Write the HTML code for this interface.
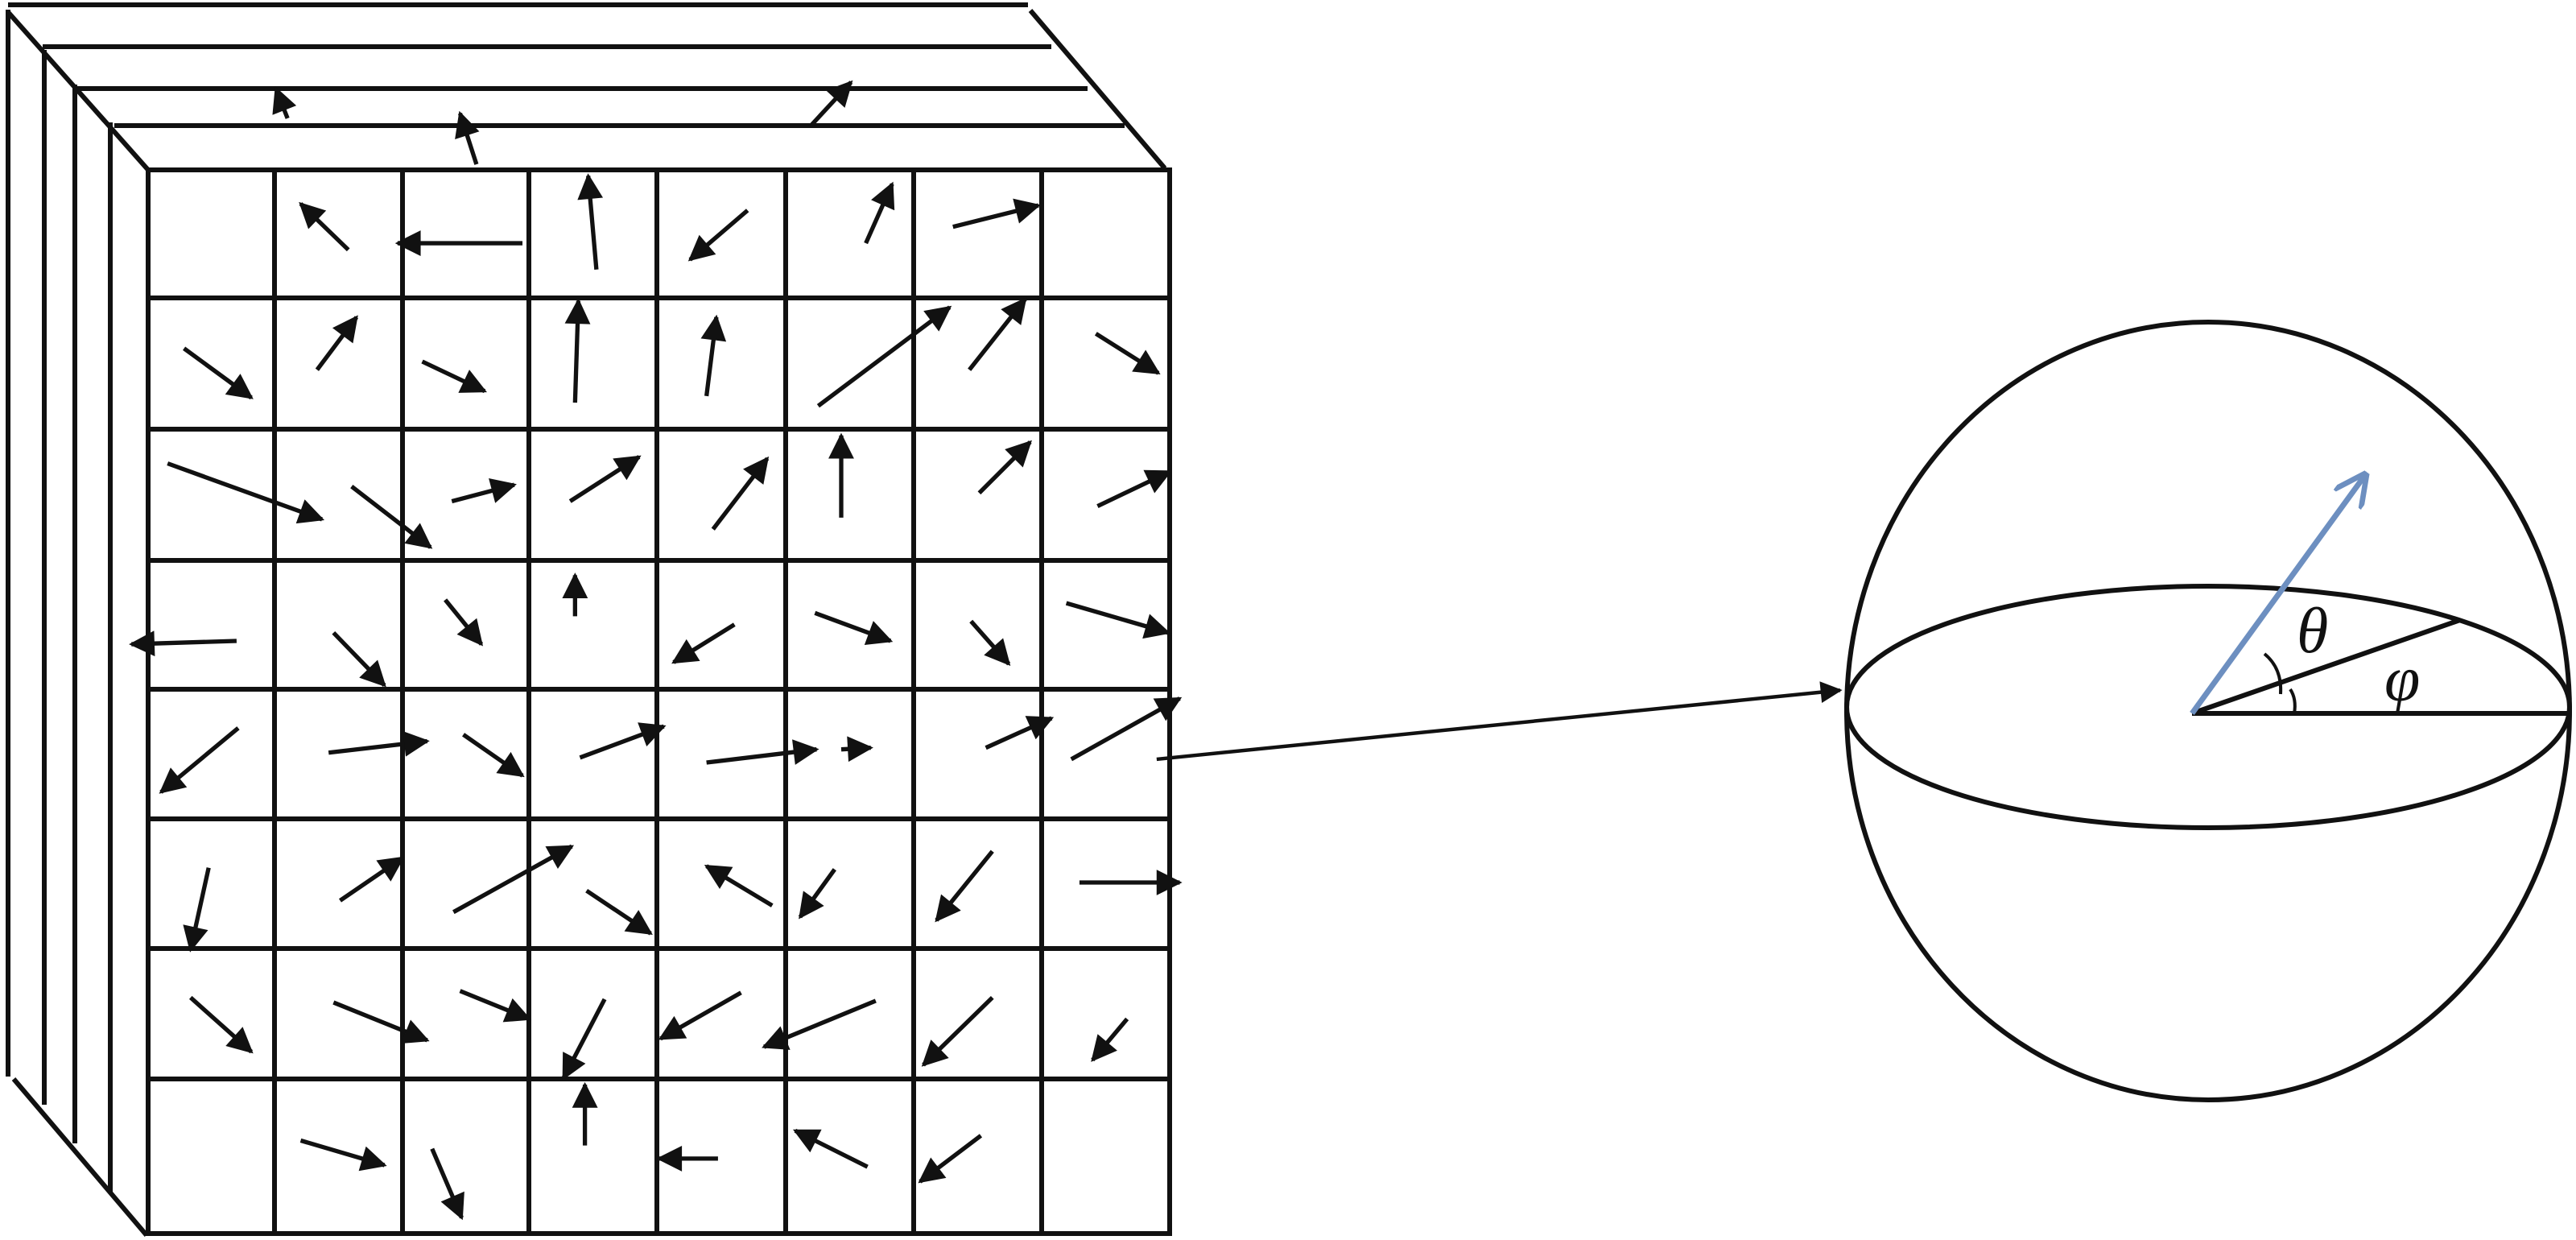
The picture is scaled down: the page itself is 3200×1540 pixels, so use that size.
<!DOCTYPE html>
<html><head><style>html,body{margin:0;padding:0;background:#fff}svg{display:block}</style></head>
<body>
<svg width="3200" height="1540" viewBox="0 0 3200 1540" xmlns="http://www.w3.org/2000/svg">
<defs>
<marker id="ah" viewBox="0 0 10 10" refX="9" refY="5" markerWidth="8" markerHeight="6" orient="auto" markerUnits="strokeWidth">
<path d="M0,0 L10,5 L0,10 Z" fill="#111"/></marker>
<marker id="ahb" viewBox="0 0 10 10" refX="9" refY="5" markerWidth="6" markerHeight="6" orient="auto" markerUnits="strokeWidth">
<path d="M0,0 L10,5 L0,10" fill="none" stroke="#6d8fc0" stroke-width="1.6"/></marker>
</defs>
<g stroke="#111" stroke-width="6" fill="none">
<line x1="10" y1="6" x2="1277" y2="6"/>
<line x1="53" y1="58" x2="1306" y2="58"/>
<line x1="96" y1="110" x2="1351" y2="110"/>
<line x1="142" y1="156" x2="1397" y2="156"/>
<line x1="10" y1="15" x2="184" y2="211"/>
<line x1="1280" y1="13" x2="1447" y2="209"/>
<line x1="10" y1="12" x2="10" y2="1337"/>
<line x1="55" y1="62" x2="55" y2="1372"/>
<line x1="93" y1="105" x2="93" y2="1420"/>
<line x1="137" y1="152" x2="137" y2="1481"/>
<line x1="17" y1="1340" x2="182" y2="1534"/>
<rect x="184" y="211" width="1269" height="1321"/>
<line x1="341" y1="211" x2="341" y2="1532"/>
<line x1="500" y1="211" x2="500" y2="1532"/>
<line x1="657" y1="211" x2="657" y2="1532"/>
<line x1="816" y1="211" x2="816" y2="1532"/>
<line x1="976" y1="211" x2="976" y2="1532"/>
<line x1="1135" y1="211" x2="1135" y2="1532"/>
<line x1="1294" y1="211" x2="1294" y2="1532"/>
<line x1="184" y1="370" x2="1453" y2="370"/>
<line x1="184" y1="533" x2="1453" y2="533"/>
<line x1="184" y1="696" x2="1453" y2="696"/>
<line x1="184" y1="856" x2="1453" y2="856"/>
<line x1="184" y1="1017" x2="1453" y2="1017"/>
<line x1="184" y1="1178" x2="1453" y2="1178"/>
<line x1="184" y1="1340" x2="1453" y2="1340"/>
</g>
<g transform="scale(2.041)" stroke="#111" stroke-width="2.6" fill="none" marker-end="url(#ah)">
<line x1="175" y1="72" x2="168" y2="54"/>
<line x1="290" y1="100" x2="280" y2="69"/>
<line x1="493" y1="77" x2="518" y2="50"/>
<line x1="212" y1="152" x2="183" y2="124"/>
<line x1="318" y1="148" x2="242" y2="148"/>
<line x1="363" y1="164" x2="358" y2="107"/>
<line x1="455" y1="128" x2="420" y2="158"/>
<line x1="527" y1="148" x2="543" y2="112"/>
<line x1="580" y1="138" x2="632" y2="125"/>
<line x1="112" y1="212" x2="153" y2="242"/>
<line x1="193" y1="225" x2="217" y2="193"/>
<line x1="257" y1="220" x2="295" y2="238"/>
<line x1="350" y1="245" x2="352" y2="183"/>
<line x1="430" y1="241" x2="436" y2="193"/>
<line x1="498" y1="247" x2="578" y2="187"/>
<line x1="590" y1="225" x2="624" y2="182"/>
<line x1="667" y1="203" x2="705" y2="227"/>
<line x1="102" y1="282" x2="196" y2="316"/>
<line x1="214" y1="296" x2="262" y2="333"/>
<line x1="275" y1="305" x2="313" y2="295"/>
<line x1="347" y1="305" x2="389" y2="278"/>
<line x1="434" y1="322" x2="467" y2="279"/>
<line x1="512" y1="315" x2="512" y2="265"/>
<line x1="596" y1="300" x2="627" y2="269"/>
<line x1="668" y1="308" x2="712" y2="287"/>
<line x1="144" y1="390" x2="80" y2="392"/>
<line x1="203" y1="385" x2="234" y2="417"/>
<line x1="271" y1="365" x2="293" y2="392"/>
<line x1="350" y1="375" x2="350" y2="350"/>
<line x1="447" y1="380" x2="410" y2="403"/>
<line x1="496" y1="373" x2="542" y2="390"/>
<line x1="591" y1="378" x2="614" y2="404"/>
<line x1="649" y1="367" x2="711" y2="385"/>
<line x1="145" y1="443" x2="98" y2="482"/>
<line x1="200" y1="458" x2="260" y2="451"/>
<line x1="282" y1="447" x2="318" y2="472"/>
<line x1="353" y1="461" x2="404" y2="442"/>
<line x1="430" y1="464" x2="497" y2="456"/>
<line x1="512" y1="456" x2="530" y2="455"/>
<line x1="600" y1="455" x2="640" y2="437"/>
<line x1="652" y1="462" x2="718" y2="425"/>
<line x1="127" y1="528" x2="116" y2="578"/>
<line x1="207" y1="548" x2="245" y2="522"/>
<line x1="276" y1="555" x2="348" y2="515"/>
<line x1="357" y1="542" x2="396" y2="568"/>
<line x1="470" y1="551" x2="430" y2="527"/>
<line x1="508" y1="529" x2="487" y2="558"/>
<line x1="604" y1="518" x2="570" y2="560"/>
<line x1="657" y1="537" x2="718" y2="537"/>
<line x1="116" y1="607" x2="153" y2="640"/>
<line x1="203" y1="610" x2="260" y2="633"/>
<line x1="280" y1="603" x2="322" y2="620"/>
<line x1="368" y1="608" x2="343" y2="656"/>
<line x1="451" y1="604" x2="402" y2="632"/>
<line x1="533" y1="609" x2="465" y2="637"/>
<line x1="604" y1="607" x2="562" y2="648"/>
<line x1="686" y1="620" x2="665" y2="645"/>
<line x1="356" y1="697" x2="356" y2="660"/>
<line x1="437" y1="705" x2="401" y2="705"/>
<line x1="183" y1="694" x2="234" y2="709"/>
<line x1="263" y1="699" x2="281" y2="741"/>
<line x1="528" y1="710" x2="484" y2="688"/>
<line x1="597" y1="691" x2="560" y2="719"/>
<line x1="704" y1="462" x2="1120" y2="420" stroke-width="2.2"/>
</g>
<g stroke="#111" stroke-width="6" fill="none">
<ellipse cx="2743" cy="883" rx="449" ry="483"/>
<ellipse cx="2743" cy="878" rx="449" ry="150"/>
<line x1="2723" y1="886" x2="3194" y2="886"/>
<line x1="2723" y1="886" x2="3056" y2="770"/>
<path d="M2813,812 Q2835,830 2833,862" stroke-width="4"/>
<path d="M2845,856 Q2853,868 2850,886" stroke-width="4"/>
</g>
<line x1="2723" y1="886" x2="2938" y2="590" stroke="#6d8fc0" stroke-width="7" marker-end="url(#ahb)"/>
<text x="2853" y="810" font-family="Liberation Serif, serif" font-style="italic" font-size="80" fill="#111">θ</text>
<text x="2962" y="870" font-family="Liberation Serif, serif" font-style="italic" font-size="80" fill="#111">φ</text>
</svg>
</body></html>
